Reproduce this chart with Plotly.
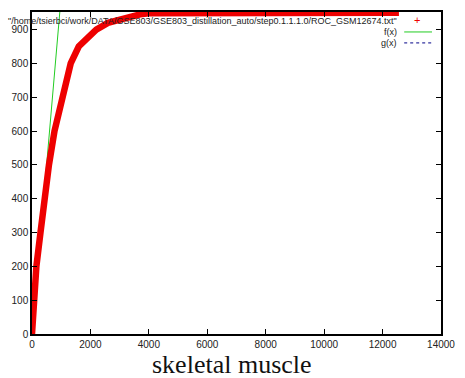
import plotly.graph_objects as go

# ROC curve data
roc_x = [0, 70, 150, 290, 430, 520, 580, 770, 1025, 1325, 1600, 1940, 2200, 2600, 3170, 3700, 4000, 6000, 8000, 10000, 12560]
roc_y = [0, 100, 200, 300, 400, 470, 500, 600, 700, 800, 850, 880, 900, 920, 935, 945, 948, 949, 950, 950, 950]

# f(x) = x reference line
f_x = [0, 1000]
f_y = [0, 1000]

x_ticks = [0, 2000, 4000, 6000, 8000, 10000, 12000, 14000]
y_ticks = [0, 100, 200, 300, 400, 500, 600, 700, 800, 900]

legend_file = '"/home/tsierbci/work/DATA/GSE803/GSE803_distillation_auto/step0.1.1.1.0/ROC_GSM12674.txt"'
title_text = "skeletal muscle"

fig = go.Figure()
fig.add_trace(go.Scatter(x=f_x, y=f_y, mode="lines",
                         line=dict(color="#22cc22", width=1), showlegend=False))
fig.add_trace(go.Scatter(x=roc_x, y=roc_y, mode="lines",
                         line=dict(color="#ee0000", width=6.5), showlegend=False))

font_s = dict(family="Liberation Sans, Arial, sans-serif", size=10, color="#222222")
font_l = dict(family="Liberation Sans, Arial, sans-serif", size=9, color="#222222")

# legend (gnuplot style: text right aligned, key sample on the right)
rows = [(legend_file, 0.972), ("f(x)", 0.938), ("g(x)", 0.904)]
for txt, yy in rows:
    fig.add_annotation(text=txt, xref="paper", yref="paper", x=0.897, y=yy,
                       xanchor="right", yanchor="middle", showarrow=False, font=font_l)
fig.add_annotation(text="+", xref="paper", yref="paper", x=0.942, y=0.975,
                   xanchor="center", yanchor="middle", showarrow=False,
                   font=dict(family="Liberation Sans", size=11, color="#ee0000"))
fig.add_shape(type="line", xref="paper", yref="paper", x0=0.91, x1=0.978, y0=0.938, y1=0.938,
              line=dict(color="#22cc22", width=1))
fig.add_shape(type="line", xref="paper", yref="paper", x0=0.91, x1=0.978, y0=0.904, y1=0.904,
              line=dict(color="#000088", width=1, dash="dot"))

fig.add_annotation(text=title_text, xref="paper", yref="paper", x=0.489, y=-0.096,
                   xanchor="center", yanchor="middle", showarrow=False,
                   font=dict(family="Liberation Serif, Times New Roman, serif", size=26, color="#111111"))

axis_common = dict(showgrid=False, zeroline=False, showline=True, linecolor="black", linewidth=1.5,
                   mirror="ticks", ticks="inside", ticklen=5, tickcolor="black",
                   tickfont=font_s, ticklabeloverflow="allow")
fig.update_xaxes(range=[0, 14000], tickvals=x_ticks, ticktext=[str(v) for v in x_ticks], **axis_common)
fig.update_yaxes(range=[0, 952], tickvals=y_ticks, ticktext=[str(v) for v in y_ticks], **axis_common)

fig.update_layout(width=465, height=378, margin=dict(l=32, r=14, t=10, b=44),
                  plot_bgcolor="white", paper_bgcolor="white", showlegend=False)

fig.write_html("out.html")
